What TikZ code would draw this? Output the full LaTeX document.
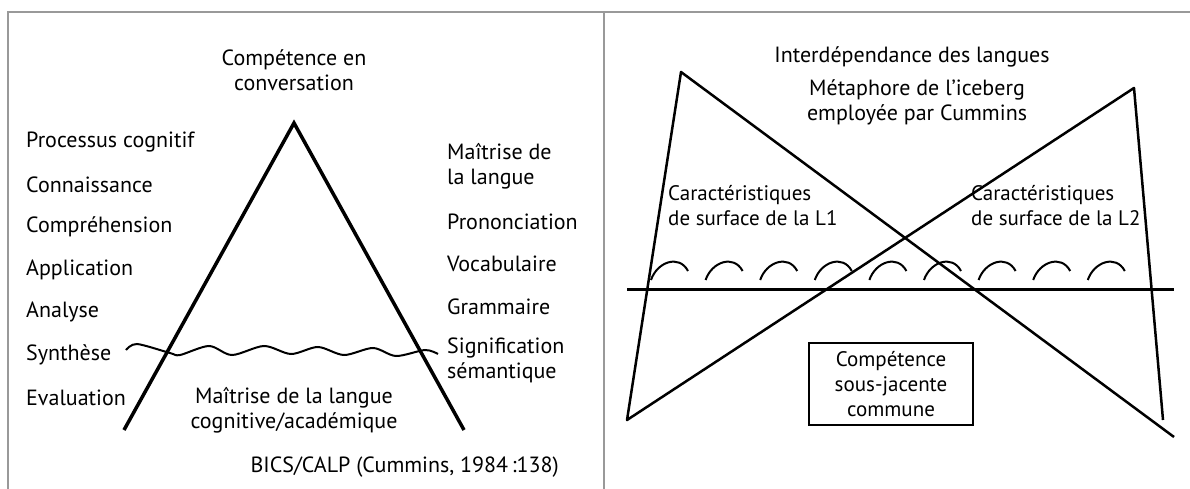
\documentclass[tikz,border=0pt]{standalone}
\usepackage{fontspec}
\setmainfont{PT Sans}
\tikzset{
  lbl/.style={inner sep=0pt, anchor=west, align=left, font=\fontsize{22}{25}\selectfont},
  ctr/.style={inner sep=0pt, align=center, font=\fontsize{22}{25}\selectfont},
  panel/.style={draw=black!40, line width=1.5pt},
  berg/.style={line width=3.5pt},
  ice/.style={line width=2.5pt, line join=round},
}
\begin{document}
\begin{tikzpicture}[x=1pt,y=-1pt]
\useasboundingbox (0,0) rectangle (1190,489);
% frame
\draw[panel] (8,489) -- (8,12) -- (1190,12);
\draw[panel] (604,12) -- (604,489);

% left panel: BICS/CALP
\coordinate (top) at (294,123);
\coordinate (bl) at (124,430);
\coordinate (br) at (464,430);
\draw[berg] (bl) -- (top) -- (br);
\draw[line width=2pt] plot[smooth] coordinates {(126,350) (137,344) (170,353) (180,355)
  (209,346) (232,355) (264,346) (291,354) (318,347) (344,355) (373,348) (396,356) (425,350) (438,354)};
\node[ctr] (conv) at (294,70) {Compétence en\\conversation};
\foreach \txt [count=\i] in {Processus cognitif, Connaissance, Compréhension,
  Application, Analyse, Synthèse, Evaluation}
  \node[lbl] (c\i) at (26,{142+42.6*(\i-1)}) {\txt};
\node[lbl] (mait) at (447,166) {Maîtrise de\\la langue};
\node[lbl] (pron) at (447,222) {Prononciation};
\node[lbl] (voc) at (447,264) {Vocabulaire};
\node[lbl] (gram) at (447,307) {Grammaire};
\node[lbl] (sign) at (447,360) {Signification\\sémantique};
\node[ctr] (calp) at (294,410) {Maîtrise de la langue\\cognitive/académique};
\node[lbl, anchor=east] (ref) at (559,467) {BICS/CALP (Cummins, 1984\,:138)};

% right panel: iceberg
\coordinate (la) at (681,72);
\coordinate (ra) at (1134,88);
\draw[ice] (1163,420) -- (ra) -- (627,420) -- (la) -- (1174,437);
\draw[line width=3pt] (627,289) -- (1174,289);
\foreach \i in {0,...,8}
  \draw[line width=2pt] ({651+54.6*\i},280) .. controls ({657+54.6*\i},262) and ({679+54.6*\i},254) .. ({688+54.6*\i},271);
\node[ctr] (title) at (912,57) {Interdépendance des langues};
\node[ctr] (meta) at (917,102) {Métaphore de l’iceberg\\employée par Cummins};
\node[lbl, font=\fontsize{21}{25}\selectfont] (l1) at (668,206) {Caractéristiques\\de surface de la L1};
\node[lbl, font=\fontsize{21}{25}\selectfont] (l2) at (971,206) {Caractéristiques\\de surface de la L2};
\node[ctr, draw, line width=2.5pt, minimum width=164pt, minimum height=82pt,
  font=\fontsize{21}{25}\selectfont] (cup) at (891,384) {Compétence\\sous-jacente\\commune};
\end{tikzpicture}
\end{document}
